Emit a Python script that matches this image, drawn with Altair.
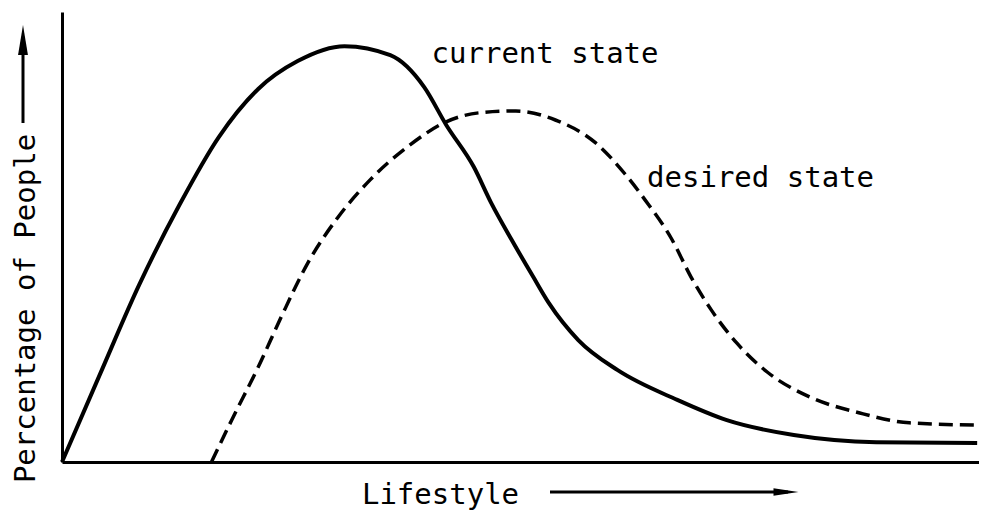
import altair as alt
import pandas as pd

# Current state (solid) curve (x: lifestyle 0-100, y: percentage 0-100)
cur_x = [0, 4.1, 8.4, 12.8, 17.1, 21.4, 25.7, 30.8, 35.8, 39.5, 41.9, 44.9, 46.8, 49.0,
         51.4, 53.1, 56.3, 60.6, 67.1, 72.5, 79.8, 88.8, 99.8]
cur_y = [0, 19.3, 39.3, 57.1, 72.2, 82.9, 89.1, 92.4, 90.4, 83.3, 74.9, 65.6, 57.6, 49.5,
         41.1, 35.3, 27.1, 20.4, 13.8, 9.3, 6.0, 4.4, 4.2]

# Desired state (dashed) curve
des_x = [16.3, 18.5, 21.4, 23.9, 26.8, 30.1, 33.6, 37.9, 41.9, 45.5, 49.5, 53.8, 58.2,
         61.4, 63.6, 66.5, 68.6, 70.8, 73.6, 76.9, 81.6, 87.0, 92.4, 99.8]
des_y = [0, 9.3, 21.1, 32.2, 44.2, 54.4, 62.7, 70.4, 75.6, 77.6, 78.0, 76.0, 70.9,
         64.0, 58.2, 49.5, 41.1, 33.8, 26.4, 20.0, 14.4, 10.9, 8.7, 8.2]

# Curve labels
label_text = ["current state", "desired state"]
label_x = [40.3, 63.8]
label_y = [88.7, 61.1]

FONT = "DejaVu Sans Mono"
FS = 29

cur = pd.DataFrame({"x": cur_x, "y": cur_y})
des = pd.DataFrame({"x": des_x, "y": des_y})
labels = pd.DataFrame({"t": label_text, "x": label_x, "y": label_y})

xs = alt.Scale(domain=[0, 100], nice=False, zero=False)
ys = alt.Scale(domain=[0, 100], nice=False)

xax = alt.Axis(title="Lifestyle", ticks=False, labels=False, grid=False,
               domainColor="black", domainWidth=3,
               titleFont=FONT, titleFontSize=FS, titleFontWeight="normal",
               titleColor="black", titleX=378, titleY=41,
               titleBaseline="alphabetic", titleAlign="center")
yax = alt.Axis(title="Percentage of People", ticks=False, labels=False, grid=False,
               domainColor="black", domainWidth=3,
               titleFont=FONT, titleFontSize=FS, titleFontWeight="normal",
               titleColor="black", titleX=-37, titleY=296, titleAngle=270,
               titleBaseline="middle", titleAlign="center")

solid = alt.Chart(cur).mark_line(color="black", strokeWidth=4, interpolate="monotone").encode(
    x=alt.X("x:Q", scale=xs, axis=xax),
    y=alt.Y("y:Q", scale=ys, axis=yax),
)
dashed = alt.Chart(des).mark_line(color="black", strokeWidth=3.5, strokeDash=[14, 7],
                                  interpolate="monotone").encode(
    x=alt.X("x:Q", scale=xs),
    y=alt.Y("y:Q", scale=ys),
)
text = alt.Chart(labels).mark_text(font=FONT, fontSize=FS, align="left",
                                   baseline="alphabetic", color="black").encode(
    x=alt.X("x:Q", scale=xs),
    y=alt.Y("y:Q", scale=ys),
    text="t:N",
)

one = pd.DataFrame({"a": [0]})
# axis-direction arrows (decoration)
x_shaft = alt.Chart(one).mark_rule(color="black", strokeWidth=3).encode(
    x=alt.value(488), x2=alt.value(726), y=alt.value(480))
x_head = alt.Chart(one).mark_point(shape="M-1,-0.3L1,0L-1,0.3Z", filled=True, size=625,
                                   color="black", opacity=1, strokeWidth=0).encode(
    x=alt.value(724), y=alt.value(480))
y_shaft = alt.Chart(one).mark_rule(color="black", strokeWidth=3).encode(
    x=alt.value(-39), y=alt.value(111), y2=alt.value(40))
y_head = alt.Chart(one).mark_point(shape="M-0.33,1L0,-1L0.33,1Z", filled=True, size=900,
                                   color="black", opacity=1, strokeWidth=0).encode(
    x=alt.value(-39), y=alt.value(28))

chart = alt.layer(solid, dashed, text, x_shaft, x_head, y_shaft, y_head).properties(
    width=917, height=450,
    autosize=alt.AutoSizeParams(type="none"),
    padding={"left": 54, "top": 4, "right": 0, "bottom": 49},
    background="white",
).configure_view(stroke=None)

chart.save("out.html", embed_options={"renderer": "svg", "actions": False})
